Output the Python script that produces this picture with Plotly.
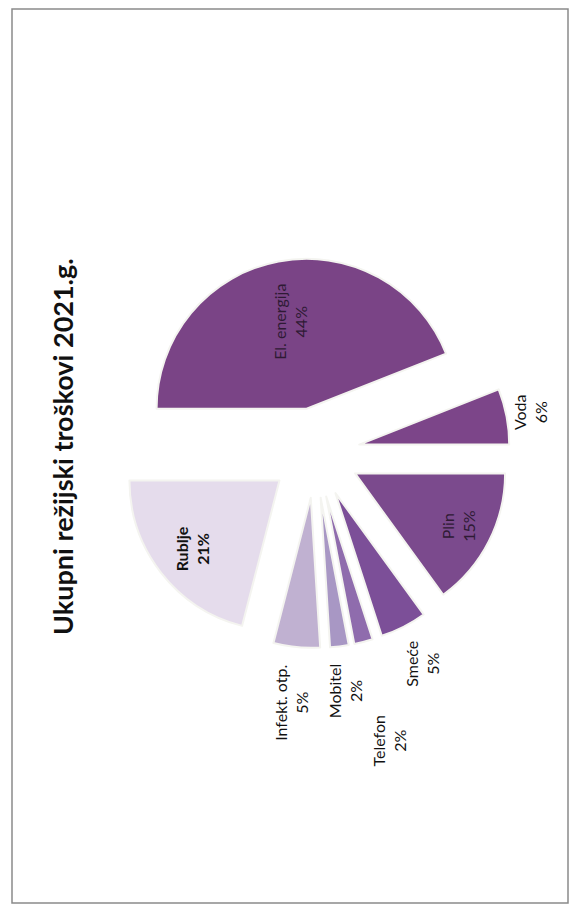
import math

import plotly.graph_objects as go


TITLE = "Ukupni režijski troškovi 2021.g."
LABELS = ["El. energija", "Voda", "Plin", "Smeće", "Telefon", "Mobitel", "Infekt. otp.", "Rublje"]
VALUES = [44, 6, 15, 5, 2, 2, 5, 21]
COLORS = ["#7a4486", "#7c4589", "#7b4a8d", "#7c4f98", "#8f6cad", "#a897c4", "#c0b1d1", "#e5dcec"]

W, H = 574, 910
FONT = "Lato, Open Sans, sans-serif"

# pie geometry in pixels (the whole page is scanned on its side)
CX, CY, R, PULL = 315, 453, 150, 0.3
START = 270  # first slice starts at 9 o'clock, clockwise

# radial distance of each label from the pie centre, in units of R
LABEL_DIST = {
    "El. energija": 0.89, "Voda": 1.46, "Plin": 1.07, "Smeće": 1.58,
    "Telefon": 1.98, "Mobitel": 1.6, "Infekt. otp.": 1.67, "Rublje": 1.04,
}

box = R * (1 + PULL)
fig = go.Figure()
fig.add_trace(go.Pie(
    labels=LABELS, values=VALUES, sort=False, direction="clockwise", rotation=START,
    pull=[PULL] * len(VALUES), textinfo="none", hoverinfo="label+percent",
    marker={"colors": COLORS, "line": {"color": "#f4f4f0", "width": 2}},
    domain={"x": [(CX - box) / W, (CX + box) / W], "y": [1 - (CY + box) / H, 1 - (CY - box) / H]},
    showlegend=False,
))

annotations = [dict(
    text=f"<b>{TITLE}</b>", x=62 / W, y=1 - 447 / H, xref="paper", yref="paper",
    xanchor="center", yanchor="middle", textangle=-90, showarrow=False,
    font={"size": 27, "color": "#111", "family": FONT},
)]
total = sum(VALUES)
acc = 0
for lab, val in zip(LABELS, VALUES):
    mid = math.radians(START + (acc + val / 2) / total * 360)
    acc += val
    d = LABEL_DIST[lab] * R
    px = CX + d * math.sin(mid)
    py = CY - d * math.cos(mid)
    txt = f"{lab}<br>{round(val / total * 100)}%"
    if lab == "Rublje":
        txt = f"<b>{txt}</b>"
    color = "#2e1a34" if lab in ("El. energija", "Plin") else "#111"
    annotations.append(dict(
        text=txt, x=px / W, y=1 - py / H, xref="paper", yref="paper",
        xanchor="center", yanchor="middle", textangle=-90, showarrow=False,
        font={"size": 16, "color": color, "family": FONT},
    ))

fig.update_layout(
    width=W, height=H, margin={"l": 0, "r": 0, "t": 0, "b": 0},
    paper_bgcolor="white", plot_bgcolor="white",
    annotations=annotations,
    shapes=[dict(type="rect", xref="paper", yref="paper", x0=12 / W, x1=568 / W,
                 y0=1 - 903 / H, y1=1 - 9 / H, line={"color": "#8a8a8a", "width": 1.5})],
)

fig.write_html("out.html", config={"displayModeBar": False},
               post_script="document.body.style.margin = '0';")
